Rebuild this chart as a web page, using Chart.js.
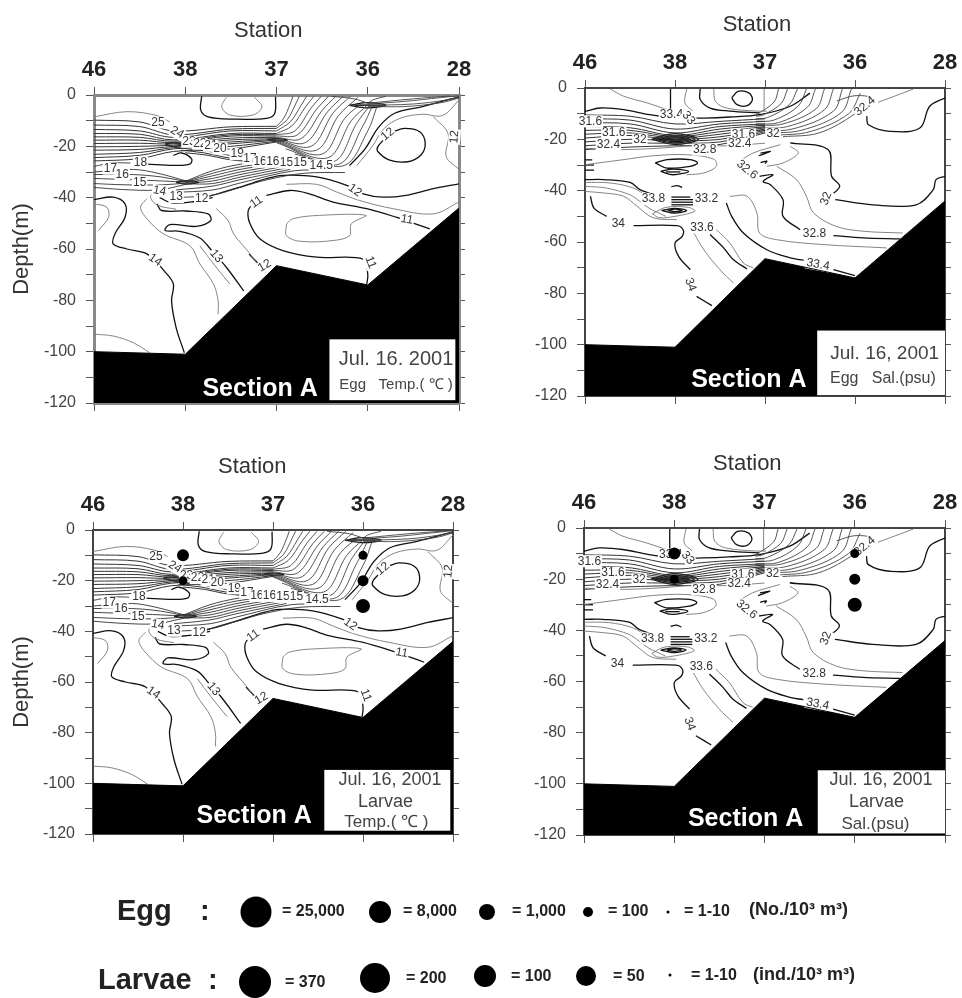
<!DOCTYPE html>
<html>
<head>
<meta charset="utf-8">
<title>Section A</title>
<script src="https://cdn.jsdelivr.net/npm/chart.js@4/dist/chart.umd.min.js"></script>
<style>
html, body { margin: 0; padding: 0; background: #fff; overflow: hidden; }
canvas { position: absolute; filter: blur(0.6px); }
</style>
</head>
<body>
<canvas id="eggTemp"></canvas>
<canvas id="eggSal"></canvas>
<canvas id="larvaeTemp"></canvas>
<canvas id="larvaeSal"></canvas>
<canvas id="keyChart"></canvas>
<script>
const stations = ['46', '38', '37', '36', '28'];
// x is the station position along the section (0-4), y is depth in m
const bottomX = [0, 1, 2, 3, 4];
const bottomDepth = [-100, -101, -66.5, -74, -44];

// temperature contours, each one: x, depth, x, depth ...
const tempThick = [
  [1.18,-.5, 1.17,-5.9, 1.25,-8.5, 1.53,-9.4, 1.89,-9.1, 1.98,-7.2, 1.99,-.7],
  [3.28,-14.3, 3.4,-13, 3.57,-14.3, 3.63,-18.9, 3.58,-23.5, 3.44,-26, 3.24,-25.4, 3.11,-22, 3.11,-20.2, 3.17,-17.6],
  [2.8,-27.5, 2.97,-21, 3.12,-12.5, 3.3,-7, 3.6,-4.5, 4,-.7],
  [1.23,-39.8, 1.6,-35.9, 1.89,-32.6, 2.07,-31.3, 2.44,-31.9, 2.77,-35.2, 2.95,-38.5, 3.17,-39.8, 3.42,-39.1, 3.72,-36.5, 4,-34.6],
  [1.89,-39.1, 2.15,-37.2, 2.36,-38.5, 2.62,-41.7, 2.99,-44.3, 3.31,-47.6, 3.57,-50.8, 3.68,-52.2],
  [1.75,-42, 1.69,-45, 1.71,-50.2, 1.82,-56.1, 2.07,-60.6, 2.44,-63.2, 2.95,-63.9, 3,-69.8, 2.99,-73.7],
  [0,-40.8, .21,-39.8, .34,-42.4, .34,-47.6, .23,-54.1, .21,-58, .36,-60, .58,-61.9, .78,-69, .87,-73.7, .85,-80.2, .9,-90.6, .99,-100.4],
  [.69,-42.4, .74,-45, 1.01,-45.2, 1.25,-46.3, 1.28,-48.9, 1.12,-51.2, .83,-50.5, .78,-52.8, .94,-53.1, 1.16,-55.7, 1.29,-60.6, 1.45,-67.1, 1.64,-76.3],
  [.58,-26.9, .87,-27.4, 1.05,-26.9, 1.07,-24.9, .96,-22.6, .87,-23.5],
  [.72,-40, .85,-42, 1.1,-41.5, 1.3,-40],
  [1.7,-62, 1.82,-66.5, 1.88,-69],
  [.78,-19, .87,-18.6, 1,-19.2, .87,-20, .78,-19],
  [1.9,-17.3, 2,-17, 2.12,-17.5, 2,-18, 1.9,-17.3],
  [.9,-34, 1.01,-33.4, 1.15,-34, 1.01,-34.7, .9,-34],
  [2.8,-4, 3,-3, 3.2,-4, 3,-5, 2.8,-4],
  [2.86,-4, 3.14,-4]
];
const tempThin = [
  [1.45,-.9, 1.4,-4.6, 1.49,-7.8, 1.74,-7.8, 1.84,-4.6, 1.76,-.9],
  [0,-8.5, .36,-6.5, .69,-8, .83,-10.5],
  [2.11,-50.2, 2.18,-48.2, 2.47,-46.9, 2.98,-46.9, 2.82,-50.2, 2.8,-54.8, 2.62,-56.7, 2.26,-57, 2.11,-54.8, 2.11,-50.2],
  [2.11,-34.8, 2.44,-34.8, 2.66,-37.8, 2.91,-41.1, 3.28,-44.3, 3.72,-46.3, 4,-41.7],
  [0,-42.4, .14,-43.7, .16,-47.6, .05,-52.8],
  [0,-93.2, .21,-93.9, .43,-96.5, .61,-100.4],
  [.58,-40.4, .51,-43.7, .58,-48.2, .76,-54.1, 1.05,-58.7, 1.16,-65.8, 1.31,-73.7, 1.36,-80.2, 1.36,-85.4],
  [1.34,-44.3, 1.47,-48.9, 1.53,-54.1, 1.71,-61.9, 1.84,-68.4],
  [1.16,-58.7, 1.31,-65.8, 1.49,-73.7],
  [2.88,-27.5, 3.05,-20, 3.18,-13, 3.36,-9, 3.6,-7.5, 3.82,-8, 4,-2],
  [3.72,-8.5, 3.88,-15, 3.86,-24, 4,-29],
  [.66,-37, .62,-40, .7,-43, .9,-44.5]
];
// the horizontal band from station 46 through 38 to 37
const tempBand = [
  [0,-9.8, .5,-10.5, .87,-14, 1.5,-12.4, 2,-12.2],
  [0,-11.7, .5,-12.3, .87,-15.5, 1.5,-13.3, 2,-13],
  [0,-13.4, .5,-14, .87,-16.5, 1.5,-14, 2,-14],
  [0,-15, .5,-15.3, .87,-17.5, 1.5,-15, 2,-15],
  [0,-16.3, .5,-16.5, .87,-18, 1.5,-15.5, 2,-15.5],
  [0,-17.6, .5,-17.6, .87,-18.5, 1.5,-16, 2,-16],
  [0,-18.9, .5,-18.8, .87,-19, 1.5,-16.8, 2,-16.5],
  [0,-20.2, .5,-20, .87,-19.5, 1.5,-17.5, 2,-17],
  [0,-21.5, .5,-21.2, .87,-20, 1.5,-18.3, 2,-17.3],
  [0,-23.1, .5,-22.4, .87,-20.5, 1.5,-19, 2,-17.6],
  [0,-24.4, .5,-23.5, .87,-21, 1.5,-20, 2,-18],
  [0,-25.7, .5,-24.8, .87,-22, 1.5,-21, 2,-18.3],
  [.9,-20.5, 1.15,-21.5, 1.35,-22.5, 1.6,-24.5],
  [.95,-21.5, 1.2,-22.5, 1.4,-24, 1.65,-25.5],
  [1,-22.5, 1.25,-23.5, 1.45,-25, 1.7,-26]
];
// the diagonal stripes between stations 37 and 36
const tempStripes = [
  [2,-12.2, 2.08,-9, 2.15,-3.5, 2.18,-.5],
  [2,-13, 2.12,-9.5, 2.21,-3.5, 2.25,-.5],
  [2,-14, 2.15,-10.5, 2.27,-4, 2.33,-.5],
  [2,-15, 2.17,-12, 2.32,-4.5, 2.41,-.5],
  [2,-15.5, 2.2,-14, 2.38,-5, 2.49,-.5],
  [2,-16, 2.23,-15.5, 2.44,-5.5, 2.57,-.5],
  [2,-16.5, 2.27,-17, 2.5,-6, 2.65,-.5],
  [2,-17, 2.32,-18.5, 2.56,-6.5, 2.73,-.5],
  [2,-17.3, 2.38,-20, 2.62,-7, 2.81,-.5],
  [2,-17.6, 2.44,-21.5, 2.68,-8, 2.89,-1],
  [2,-18, 2.5,-23, 2.75,-9, 2.96,-2.5],
  [2,-18.3, 2.56,-24.5, 2.82,-10, 3,-3.8],
  [2,-18.6, 2.62,-26, 2.88,-11, 3.02,-4.2],
  [2.1,-21, 2.68,-27, 2.94,-12.5, 3.05,-4.4],
  [2.2,-23, 2.74,-27.5, 3,-14, 3.1,-4.6],
  [3,-3.5, 3.4,-2.5, 3.8,-1, 4,-.3],
  [3,-3.2, 3.5,-1.5, 3.9,-.4],
  [3,-4, 3.5,-3.5, 3.85,-2, 4,-.7],
  [3,-4.4, 3.4,-4.5, 3.8,-3, 4,-1.2],
  [2.6,-.5, 2.85,-1.5, 3,-3.2],
  [3.2,-.5, 3.05,-2, 3,-3.4],
  [2.8,-4, 3,-3.8, 3.2,-4.2]
];
// the lower band that meets at station 38, 34 m
const tempLower = [
  [0,-27.8, .2,-26.5, .4,-26.5],
  [0,-30, .43,-29, .7,-30.5, 1.01,-33.5],
  [0,-31, .43,-31, .75,-32, 1.01,-33.8],
  [0,-32.5, .4,-33, .75,-33.5, 1.01,-34],
  [0,-34.5, .35,-35, .75,-35, 1.01,-34.3],
  [0,-36, .3,-36.8, .7,-37, 1.01,-34.8],
  [1.01,-33.5, 1.3,-29.5, 1.6,-27, 1.85,-26],
  [1.01,-33.7, 1.3,-30.5, 1.6,-28, 1.9,-26.5],
  [1.01,-33.9, 1.3,-31.5, 1.6,-29, 1.95,-27],
  [1.01,-34.1, 1.3,-32.5, 1.6,-30, 2,-27.5],
  [1.01,-34.3, 1.3,-33.5, 1.6,-31, 2.05,-28],
  [1.01,-34.6, 1.3,-34.5, 1.6,-32, 2.1,-28.5],
  [.9,-37, 1.3,-35.5, 1.6,-33, 2.15,-29],
  [.85,-38, 1.3,-37, 1.6,-34.3, 2.2,-29.5, 2.6,-29.5],
  [.9,-40, 1.3,-39, 1.6,-36, 1.9,-33, 2.3,-30.5, 2.75,-30.2]
];
const tempLabelText = ['25','24','23','22','21','20','19','17','16','16','15','15','14.5','18','17','16','15','14','13','12','12','12','12','11','11','11','14','13','12'];
const tempLabelX = [.7,.91,1.04,1.16,1.28,1.38,1.57,1.71,1.82,1.96,2.11,2.26,2.49,.51,.18,.31,.5,.72,.9,1.18,2.86,3.22,3.95,1.78,3.43,3.03,.67,1.34,1.87];
const tempLabelDepth = [-10.7,-14.6,-18.2,-19,-19.8,-20.8,-23,-24.8,-26,-26,-26.4,-26.4,-27.4,-26.3,-28.7,-30.9,-34.3,-37.4,-39.8,-40.4,-37.2,-15.3,-16.3,-41.7,-48.5,-65.2,-64.3,-62.8,-66.5];
const tempLabelAngle = [0,30,0,0,0,0,0,0,0,0,0,0,0,0,0,0,0,10,0,0,35,-40,-85,-35,10,70,35,50,-30];

// salinity contours
const salThick = [
  [0,-9.1, .17,-7.8, .43,-8.4, .72,-10.4, 1.02,-11.7, 1.32,-11.7, 1.61,-11.3, 1.94,-10.4, 2.28,-7.1, 2.5,-2],
  [.95,-.4, .95,-9],
  [1.28,-.4, 1.28,-4.5, 1.39,-7.8, 1.61,-9, 1.94,-9.7],
  [1.63,-3.9, 1.7,-1.3, 1.82,-1.9, 1.86,-4.5, 1.8,-6.9, 1.69,-6.5, 1.63,-3.9],
  [3.13,-11, 3.15,-14.3, 3.39,-16.9, 3.72,-15.6, 3.83,-7.1, 4,-3.9],
  [2.28,-21.4, 2.7,-24, 2.74,-34.4, 2.83,-38.3, 2.72,-42.2],
  [2.78,-43.5, 3.2,-45.5, 3.68,-45.5, 3.87,-39.6, 3.9,-35.7, 4,-34.4],
  [1.94,-34.4, 2.09,-33.8, 1.98,-36.4, 2.06,-37.7, 2.2,-43.5, 2.2,-50, 2.39,-55.2],
  [2.76,-57.5, 3.09,-58.4, 3.5,-58.8],
  [1.57,-44.8, 1.63,-50, 1.76,-56.5, 2.02,-63, 2.28,-66.2, 2.43,-67.1],
  [2.76,-70.8, 3,-73.1],
  [.78,-29.2, .91,-27.9, 1.17,-27.9, 1.25,-29.2, 1.17,-30.5, .91,-31.2, .78,-29.2],
  [.84,-32.5, .98,-31.6, 1.15,-32.5, .98,-33.8, .84,-32.5],
  [.9,-32.7, 1.06,-32.7],
  [.96,-38.5, 1.02,-38, 1.08,-38.7],
  [.96,-42.5, 1.17,-42.5],
  [.96,-43.5, 1.2,-43.5],
  [.96,-44.5, 1.2,-44.5],
  [.96,-45.5, 1.2,-45.5],
  [.85,-47.7, 1,-46.9, 1.13,-47.7, 1,-48.7, .85,-47.7],
  [.92,-47.7, 1,-47.2, 1.08,-47.7, 1,-48.2, .92,-47.7],
  [0,-35.7, .21,-35.7, .5,-36.8, .61,-39.6, .72,-41],
  [.06,-42.2, .1,-46.8, .24,-50],
  [.54,-53.6, 1.02,-53.6, 1.09,-55.2, 1.08,-57.8, 1,-60.4, 1.04,-65.6, 1.17,-70.8],
  [1.24,-81.2, 1.41,-84.8],
  [1.39,-57.1, 1.54,-62.3, 1.65,-66.9, 1.8,-70.5],
  [1.93,-26.4, 2.06,-24.7, 1.95,-25.4],
  [1.95,-29, 2.02,-28.5, 2,-29.5],
  [0,-28, .08,-28],
  [0,-30, .1,-30],
  [0,-32, .1,-32],
  [.74,-20, 1,-17.8, 1.26,-20, 1,-22, .74,-20],
  [.78,-20, 1,-18.5, 1.22,-20, 1,-21.4, .78,-20],
  [.84,-20, 1,-19, 1.16,-20, 1,-20.9, .84,-20],
  [.88,-20, 1,-19.4, 1.12,-20, 1,-20.5, .88,-20],
  [.82,-20, 1.18,-20]
];
const salThin = [
  [.28,-.4, .43,-3.2, .69,-5.8, .91,-8.4],
  [1.13,-.4, 1.11,-5.8, 1.2,-9],
  [1.43,-.4, 1.45,-5.2, 1.57,-7.8, 1.91,-9, 2.02,-9],
  [1.99,-.4, 1.99,-9],
  [3.24,-5.8, 3.65,-.4],
  [2.13,-30.5, 2.35,-35.7, 2.46,-42.2, 2.54,-48.7, 2.79,-53.9, 3.09,-55.8, 3.53,-56.5],
  [1.61,-42.2, 1.8,-42.2, 1.91,-48.7, 1.94,-56.5, 2.13,-59.1, 2.65,-61, 3.35,-62.3],
  [2.28,-22.7, 2.37,-25.3, 2.2,-29.2, 2.02,-30.5],
  [1.69,-29.2, 1.87,-25.3, 2.17,-22.1],
  [0,-29.9, .43,-27.9, .76,-26.4, 1.13,-26, 1.43,-27.7, 1.46,-30.5, 1.32,-33.1, 1.13,-33.8],
  [0,-36.8, .28,-37, .54,-39, .69,-42.2],
  [0,-38.3, .24,-39, .5,-41.6, .61,-44.2, .72,-47, .9,-50],
  [0,-40.3, .21,-40.9, .43,-42.2, .58,-46.1, .76,-50.6, 1.02,-51.3],
  [.75,-49, .9,-46.5, 1.15,-46.5, 1.22,-48, 1,-50, .82,-50.5, .75,-49],
  [1.21,-56.5, 1.32,-63, 1.5,-70.8, 1.65,-76],
  [1.46,-55.2, 1.61,-60.4, 1.76,-68.2, 1.87,-70.1],
  [0,-23.5, .4,-24, .8,-23.5, 1.2,-22.5, 1.6,-22.5, 2,-21.5]
];
const salBand = [
  [0,-10.5, .5,-11, 1,-14, 1.5,-13, 2,-12],
  [0,-12, .5,-12.5, 1,-16, 1.5,-14, 2,-13],
  [0,-13.5, .5,-14, 1,-17.5, 1.5,-15, 2,-14],
  [0,-15, .5,-15.5, 1,-18.5, 1.5,-16, 2,-14.5],
  [0,-16.5, .5,-16.5, 1,-19, 1.5,-17, 2,-15],
  [0,-18, .5,-17.5, 1,-19.5, 1.5,-18, 2,-15.5],
  [0,-19.5, .5,-18.5, 1,-20, 1.5,-19, 2,-16],
  [0,-21, .5,-20, 1,-20.5, 1.5,-20, 2,-16.5],
  [0,-22.5, .5,-21.5, 1,-21.5, 1.5,-21, 2,-17],
  [0,-24, .5,-23, 1,-22.5, 1.5,-22, 2,-17.5]
];
const salStripes = [
  [2.15,-.4, 2.1,-5.5, 1.9,-10.5],
  [2.25,-.4, 2.18,-6, 1.98,-10.5, 1.9,-11],
  [2.36,-.4, 2.27,-6.5, 2.03,-11.5, 1.9,-12],
  [2.46,-.4, 2.37,-7, 2.1,-12.5, 1.9,-13],
  [2.56,-.4, 2.47,-7.5, 2.15,-13.5, 1.9,-14],
  [2.66,-.4, 2.57,-8, 2.2,-14, 1.9,-14.5],
  [2.76,-.4, 2.66,-8.5, 2.25,-15, 1.9,-15.5],
  [2.86,-.4, 2.76,-9, 2.3,-16, 1.9,-16.5],
  [2.96,-.4, 2.85,-9.5, 2.4,-16.5, 2,-17.5],
  [3.06,-2, 2.93,-10, 2.5,-17, 2.1,-18.5],
  [3.15,-4, 3,-10, 2.6,-17.5, 2.2,-19],
  [2.8,-5, 3,-3, 3.2,-4, 3.2,-7]
];
const salLabelText = ['33.4','33','31.6','31.6','32','32.4','31.6','32','32.8','32.4','32.6','33.8','33.2','34','33.6','34','32.8','33.4','32.4','32'];
const salLabelX = [.96,1.15,.06,.32,.61,.26,1.76,2.09,1.33,1.72,1.8,.76,1.35,.37,1.3,1.17,2.55,2.59,3.11,2.68];
const salLabelDepth = [-10.4,-11.7,-13,-17.5,-20.1,-22,-18.2,-17.8,-24,-21.7,-31.8,-43.2,-43.1,-53,-54.3,-76.6,-56.9,-68.8,-7.1,-43.1];
const salLabelAngle = [0,50,0,0,0,0,0,0,0,0,40,0,0,0,0,70,0,10,-40,-70];

// larvae catch stations (panels 3 and 4)
const catchX = [1, 1, 3, 3, 3];
const catchDepth = [-10, -20, -10, -20, -30];
const catchRadius = [6, 4.5, 4.5, 5.5, 7];

// key under the panels
const eggKeyValues = ['= 25,000', '= 8,000', '= 1,000', '= 100', '= 1-10'];
const larvaeKeyValues = ['= 370', '= 200', '= 100', '= 50', '= 1-10'];
const eggKeyX = [256, 380, 487, 588, 668];
const eggKeyRadius = [15.5, 11, 8, 5, 1.5];
const larvaeKeyX = [255, 375, 485, 586, 670];
const larvaeKeyY = [982, 978, 976, 976, 975];
const larvaeKeyRadius = [16, 15, 11, 10, 1.5];

const FONT = '"Liberation Sans", Arial, sans-serif';

function toPoints(flat) {
  const pts = [];
  for (let i = 0; i < flat.length; i += 2) pts.push({x: flat[i], y: flat[i + 1]});
  return pts;
}

function contourSet(lines, color, width) {
  return lines.map(flat => ({
    data: toPoints(flat),
    showLine: true,
    borderColor: color,
    borderWidth: width,
    pointRadius: 0,
    tension: 0.35,
    fill: false
  }));
}

function makePanel(p) {
  const canvas = document.getElementById(p.id);
  canvas.width = p.box[2];
  canvas.height = p.box[3];
  canvas.style.left = p.box[0] + 'px';
  canvas.style.top = p.box[1] + 'px';

  const datasets = [];
  datasets.push({
    label: 'catch',
    data: p.showCatch ? catchX.map((x, i) => ({x: x, y: catchDepth[i]})) : [],
    backgroundColor: '#000',
    borderWidth: 0,
    pointRadius: catchRadius
  });
  datasets.push({
    label: 'bottom',
    data: bottomX.map((x, i) => ({x: x, y: bottomDepth[i]})),
    showLine: true,
    borderColor: '#000',
    borderWidth: 1,
    backgroundColor: '#000',
    pointRadius: 0,
    fill: 'start'
  });
  p.lines.forEach(group => datasets.push(...contourSet(group[0], group[1], group[2])));

  const textPlugin = {
    id: 'panelText',
    beforeDatasetDraw(chart, args) {
      // contour labels go under the bottom fill and the catch dots
      if (chart.data.datasets[args.index].label !== 'bottom') return;
      const c = chart.ctx, sx = chart.scales.x, sy = chart.scales.y;
      c.save();
      c.font = '12px ' + FONT;
      c.textAlign = 'center';
      c.textBaseline = 'middle';
      p.labels[0].forEach((t, i) => {
        c.save();
        c.translate(sx.getPixelForValue(p.labels[1][i]), sy.getPixelForValue(p.labels[2][i]));
        c.rotate(p.labels[3][i] * Math.PI / 180);
        const w = c.measureText(t).width + 2;
        c.fillStyle = '#fff';
        c.fillRect(-w / 2, -6, w, 12);
        c.fillStyle = '#333';
        c.fillText(t, 0, 0);
        c.restore();
      });
      c.restore();
    },
    afterDatasetsDraw(chart) {
      const c = chart.ctx, sx = chart.scales.x, sy = chart.scales.y;
      const px = v => sx.getPixelForValue(v), py = v => sy.getPixelForValue(v);
      c.save();
      c.textAlign = 'center';
      c.textBaseline = 'middle';
      c.fillStyle = '#fff';
      c.fillRect(px(p.noteBox[0]), py(p.noteBox[1]), px(p.noteBox[2]) - px(p.noteBox[0]), py(p.noteBox[3]) - py(p.noteBox[1]));
      c.font = 'bold 25px ' + FONT;
      c.fillText('Section A', px(p.section[0]), py(p.section[1]));
      c.fillStyle = '#444';
      p.notes.forEach(n => {
        c.font = n[3] + 'px ' + FONT;
        c.fillText(n[0], px(n[1]), py(n[2]));
      });
      c.fillStyle = '#333';
      c.font = '22px ' + FONT;
      c.fillText('Station', px(p.title[0]), py(p.title[1]));
      c.restore();
    }
  };

  const fix = (key, v) => s => { s[key] = v; };
  const gridOpts = {display: true, drawOnChartArea: false, color: '#555', lineWidth: 1, tickLength: 8};
  const border = w => ({display: true, color: p.frame, width: w});

  return new Chart(canvas, {
    type: 'scatter',
    data: {datasets},
    plugins: [textPlugin],
    options: {
      responsive: false,
      animation: false,
      events: [],
      layout: {padding: 0, autoPadding: false},
      plugins: {legend: {display: false}, tooltip: {enabled: false}, title: {display: false}},
      scales: {
        x: {
          type: 'linear', position: 'top', min: 0, max: 4,
          afterFit: fix('height', p.pad[1]),
          border: border(p.frameWidth),
          grid: gridOpts,
          ticks: {
            stepSize: 1, autoSkip: false, maxRotation: 0, padding: 4, color: '#222',
            font: {family: FONT, size: 22, weight: 'bold'},
            callback: v => stations[v]
          }
        },
        x2: {
          type: 'linear', position: 'bottom', min: 0, max: 4,
          afterFit: fix('height', p.pad[3]),
          border: border(p.frameWidth),
          grid: gridOpts,
          ticks: {stepSize: 1, autoSkip: false, maxRotation: 0, callback: () => ''}
        },
        y: {
          type: 'linear', position: 'left', min: -120, max: 0,
          afterFit: fix('width', p.pad[0]),
          border: border(p.frameWidth),
          grid: gridOpts,
          title: {
            display: p.showDepth, text: 'Depth(m)', color: '#333',
            font: {family: FONT, size: 22}, padding: {top: 9, bottom: 0}
          },
          ticks: {
            stepSize: 10, autoSkip: false, padding: 10, color: '#444',
            font: {family: FONT, size: 16},
            callback: v => (v % 20 === 0 ? String(v) : '')
          }
        },
        y2: {
          type: 'linear', position: 'right', min: -120, max: 0,
          afterFit: fix('width', p.pad[2]),
          border: border(p.frameWidth),
          grid: Object.assign({}, gridOpts, {tickLength: 6}),
          ticks: {stepSize: 10, autoSkip: false, callback: () => ''}
        }
      }
    }
  });
}

const tempLines = [
  [tempThin, '#777', 0.9],
  [tempBand, '#333', 1],
  [tempStripes, '#444', 0.9],
  [tempLower, '#333', 0.9],
  [tempThick, '#111', 1.3]
];
const salLines = [
  [salThin, '#777', 0.9],
  [salBand, '#333', 1],
  [salStripes, '#444', 0.9],
  [salThick, '#111', 1.3]
];
const tempLabels = [tempLabelText, tempLabelX, tempLabelDepth, tempLabelAngle];
const salLabels = [salLabelText, salLabelX, salLabelDepth, salLabelAngle];

makePanel({
  id: 'eggTemp', box: [0, 0, 480, 440], pad: [94, 95, 21, 37], frame: '#888', frameWidth: 3,
  lines: tempLines, labels: tempLabels, showCatch: false, showDepth: true,
  title: [1.91, 25], section: [1.82, -114.7], noteBox: [2.58, -95.2, 3.96, -118.9],
  notes: [['Jul. 16. 2001', 3.31, -103, 20], ['Egg   Temp.( ℃ )', 3.31, -112.8, 15]]
});
makePanel({
  id: 'eggSal', box: [490, 0, 472, 430], pad: [95, 88, 17, 34], frame: '#444', frameWidth: 2,
  lines: salLines, labels: salLabels, showCatch: false, showDepth: false,
  title: [1.91, 24.7], section: [1.82, -113.9], noteBox: [2.58, -94.5, 4, -119.7],
  notes: [['Jul. 16, 2001', 3.33, -103.5, 19], ['Egg   Sal.(psu)', 3.31, -113.4, 16]]
});
makePanel({
  id: 'larvaeTemp', box: [0, 440, 480, 420], pad: [93, 90, 27, 26], frame: '#444', frameWidth: 2,
  lines: tempLines, labels: tempLabels, showCatch: true, showDepth: true,
  title: [1.77, 24.7], section: [1.79, -113], noteBox: [2.57, -94.7, 3.97, -118.7],
  notes: [['Jul. 16, 2001', 3.3, -98.7, 18], ['Larvae', 3.25, -107.2, 18], ['Temp.( ℃ )', 3.26, -115.5, 17]]
});
makePanel({
  id: 'larvaeSal', box: [490, 440, 472, 420], pad: [94, 88, 17, 25], frame: '#444', frameWidth: 2,
  lines: salLines, labels: salLabels, showCatch: true, showDepth: false,
  title: [1.81, 25], section: [1.79, -113.6], noteBox: [2.59, -94.7, 4, -119.4],
  notes: [['Jul. 16, 2001', 3.29, -98.6, 18], ['Larvae', 3.24, -107, 18], ['Sal.(psu)', 3.23, -115.8, 17]]
});

// key chart: x and y scales run in the units of the page so the rows line up
const keyCanvas = document.getElementById('keyChart');
keyCanvas.width = 962;
keyCanvas.height = 138;
keyCanvas.style.left = '0px';
keyCanvas.style.top = '860px';

const keyTextPlugin = {
  id: 'keyText',
  afterDatasetsDraw(chart) {
    const c = chart.ctx, sx = chart.scales.x, sy = chart.scales.y;
    const put = (t, x, y, font) => {
      c.font = font + ' ' + FONT;
      c.fillText(t, sx.getPixelForValue(x), sy.getPixelForValue(y));
    };
    c.save();
    c.fillStyle = '#222';
    c.textAlign = 'left';
    c.textBaseline = 'middle';
    put('Egg', 117, 912, 'bold 29px');
    put(':', 200, 912, 'bold 29px');
    put('Larvae', 98, 981, 'bold 29px');
    put(':', 208, 981, 'bold 29px');
    const eggTextX = [282, 403, 512, 608, 684];
    const larvaeTextX = [285, 406, 511, 613, 691];
    eggKeyValues.forEach((t, i) => put(t, eggTextX[i], 912, 'bold 16px'));
    larvaeKeyValues.forEach((t, i) => put(t, larvaeTextX[i], larvaeKeyY[i] + 1, 'bold 16px'));
    put('(No./10³ m³)', 749, 910, 'bold 18px');
    put('(ind./10³ m³)', 753, 975, 'bold 18px');
    c.restore();
  }
};

new Chart(keyCanvas, {
  type: 'scatter',
  data: {
    datasets: [
      {label: 'Egg', data: eggKeyX.map(x => ({x: x, y: 912})), backgroundColor: '#000', borderWidth: 0, pointRadius: eggKeyRadius, clip: false},
      {label: 'Larvae', data: larvaeKeyX.map((x, i) => ({x: x, y: larvaeKeyY[i]})), backgroundColor: '#000', borderWidth: 0, pointRadius: larvaeKeyRadius, clip: false}
    ]
  },
  plugins: [keyTextPlugin],
  options: {
    responsive: false,
    animation: false,
    events: [],
    layout: {padding: 0, autoPadding: false},
    plugins: {legend: {display: false}, tooltip: {enabled: false}},
    scales: {
      x: {type: 'linear', display: false, min: 0, max: 962},
      y: {type: 'linear', display: false, min: 860, max: 998, reverse: true}
    }
  }
});
</script>
</body>
</html>
